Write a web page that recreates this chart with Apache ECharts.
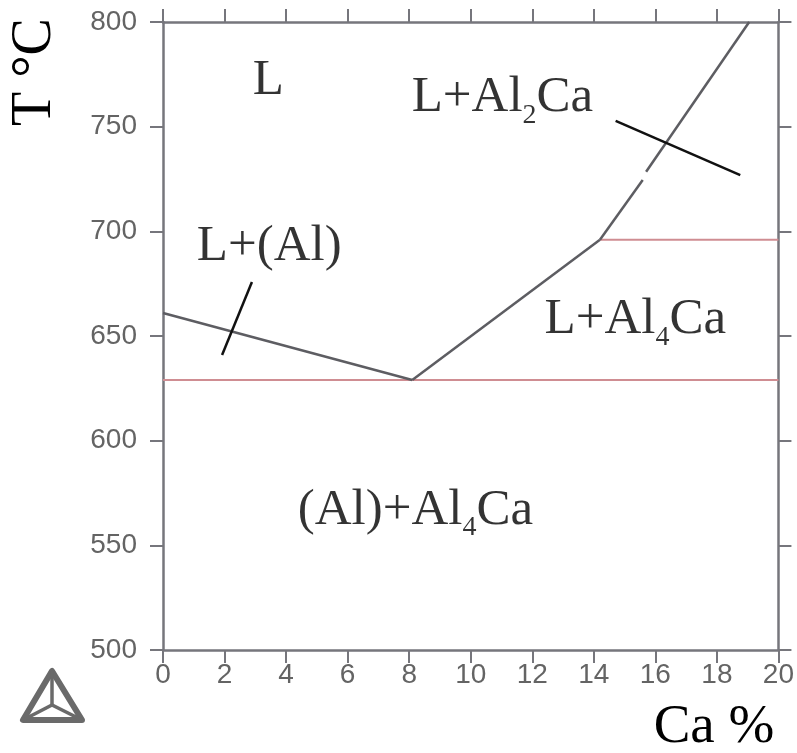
<!DOCTYPE html>
<html>
<head>
<meta charset="utf-8">
<title>Al-Ca</title>
<script src="https://cdn.jsdelivr.net/npm/echarts@6/dist/echarts.min.js"></script>
<style>
  html, body { margin: 0; padding: 0; background: #fff; }
  #chart { width: 797px; height: 753px; }
</style>
</head>
<body>
<div id="chart"></div>
<script>
// Al-Ca 相图（富铝端）
const caRange = [0, 20];
const tempRange = [500, 800];

// 液相线
const liquidusAl = [[0, 661], [8.1, 629]];
const liquidusAl4Ca = [[8.1, 629], [14.2, 696]];
const liquidusAl2CaLow = [[14.2, 696], [15.59, 724.5]];
const liquidusAl2CaHigh = [[15.7, 728.5], [19.05, 800]];

// 共晶 / 包晶水平线
const eutectic = [[0, 629], [20, 629]];
const peritectic = [[14.2, 696], [20, 696]];

// 标注引线
const leaderAl = [[2.89, 675.8], [1.92, 640.9]];
const leaderAl2Ca = [[14.71, 752.8], [18.76, 726.9]];

// 相区标注（左端, 中线）
const phaseLabels = [
  { text: '{m|L}', x: 2.92, t: 772 },
  { text: '{m|L+Al}{s|2}{m|Ca}', x: 8.08, t: 763.7 },
  { text: '{m|L+(Al)}', x: 1.1, t: 692.5 },
  { text: '{m|L+Al}{s|4}{m|Ca}', x: 12.4, t: 657.6 },
  { text: '{m|(Al)+Al}{s|4}{m|Ca}', x: 4.38, t: 566.8 },
];

const chart = echarts.init(document.getElementById('chart'), null, { renderer: 'canvas' });

const axisColor = '#76767c';
const labelColor = '#646464';
const serif = '"Liberation Serif", "Times New Roman", serif';
const sans = '"Liberation Sans", Arial, sans-serif';

function xAx(pos, showLabel) {
  return {
    type: 'value', position: pos, min: caRange[0], max: caRange[1], interval: 2,
    axisLine: { show: true, onZero: false, lineStyle: { color: axisColor, width: 2.5 } },
    axisTick: { show: true, inside: false, length: 13, lineStyle: { color: axisColor, width: 2 } },
    axisLabel: { show: showLabel, margin: 11, fontSize: 28, color: labelColor, fontFamily: sans },
    splitLine: { show: false },
  };
}
function yAx(pos, showLabel) {
  return {
    type: 'value', position: pos, min: tempRange[0], max: tempRange[1], interval: 50,
    axisLine: { show: true, onZero: false, lineStyle: { color: axisColor, width: 2.5 } },
    axisTick: { show: true, inside: false, length: 13, lineStyle: { color: axisColor, width: 2 } },
    axisLabel: { show: showLabel, margin: 26, fontSize: 28, color: labelColor, fontFamily: sans },
    splitLine: { show: false },
  };
}

function seg(data, color, width) {
  return {
    type: 'line', data: data, xAxisIndex: 0, yAxisIndex: 0,
    showSymbol: false, symbol: 'none', silent: true,
    lineStyle: { color: color, width: width },
    z: 3,
  };
}

const option = {
  backgroundColor: '#fff',
  animation: false,
  grid: { left: 163, right: 18, top: 22, bottom: 103, containLabel: false },
  xAxis: [xAx('bottom', true), xAx('top', false)],
  yAxis: [yAx('left', true), yAx('right', false)],
  series: [
    seg(eutectic, '#cf8d92', 2),
    seg(peritectic, '#cf8d92', 2),
    seg(liquidusAl, '#5d5d62', 2.5),
    seg(liquidusAl4Ca, '#5d5d62', 2.5),
    seg(liquidusAl2CaLow, '#5d5d62', 2.5),
    seg(liquidusAl2CaHigh, '#5d5d62', 2.5),
    seg(leaderAl, '#111', 2.5),
    seg(leaderAl2Ca, '#111', 2.5),
    {
      type: 'scatter', symbolSize: 0, silent: true, z: 5,
      data: phaseLabels.map(d => ({ value: [d.x, d.t], text: d.text })),
      label: {
        show: true, position: [0, 0], align: 'left', verticalAlign: 'middle',
        color: '#000', textBorderWidth: 0,
        formatter: p => p.data.text,
        rich: {
          m: { fontFamily: serif, fontSize: 51, color: '#000', lineHeight: 63, textBorderWidth: 0 },
          s: { fontFamily: serif, fontSize: 28, color: '#000', lineHeight: 28, verticalAlign: 'bottom', textBorderWidth: 0 },
        },
      },
    },
  ],
  graphic: [
    {
      type: 'text', x: 35, y: 72, rotation: Math.PI / 2,
      style: { text: 'T °C', font: '56px ' + serif, fill: '#000', align: 'center', verticalAlign: 'middle' },
    },
    {
      type: 'text', x: 714, y: 728,
      style: { text: 'Ca %', font: '55px ' + serif, fill: '#000', align: 'center', verticalAlign: 'middle' },
    },
    {
      type: 'polygon',
      shape: { points: [[52, 671], [23, 720], [82, 720]] },
      style: { fill: 'none', stroke: '#6a6a6a', lineWidth: 6, lineJoin: 'round' },
    },
    {
      type: 'polyline',
      shape: { points: [[52, 671], [52, 705]] },
      style: { stroke: '#6a6a6a', lineWidth: 3.5 },
    },
    {
      type: 'polyline',
      shape: { points: [[23, 720], [52, 705], [82, 720]] },
      style: { stroke: '#6a6a6a', lineWidth: 3.5, fill: 'none' },
    },
  ],
};

chart.setOption(option);
</script>
</body>
</html>
